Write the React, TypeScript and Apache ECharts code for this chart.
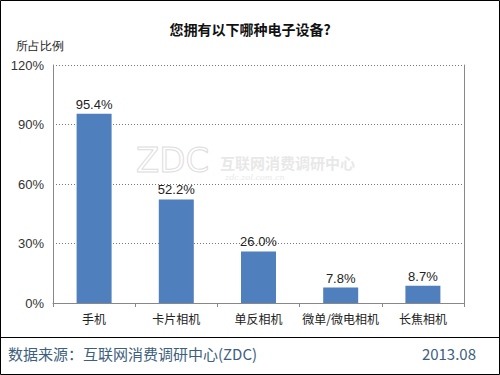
import React, { useEffect, useRef } from "react";
import * as echarts from "echarts";

const categories = ["手机", "卡片相机", "单反相机", "微单/微电相机", "长焦相机"];
const values = [95.4, 52.2, 26.0, 7.8, 8.7];
const yMax = 120;
const yInterval = 30;
const titleText = "您拥有以下哪种电子设备?";
const yName = "所占比例";
const sourceText = "数据来源：互联网消费调研中心(ZDC)";
const dateText = "2013.08";

const FONT = "'Noto Sans CJK SC', 'Noto Sans', sans-serif";
const NUMFONT = "'Liberation Sans', 'DejaVu Sans', sans-serif";

export default function App() {
  const ref = useRef<HTMLDivElement>(null);
  useEffect(() => {
    if (!ref.current) return;
    const chart = echarts.init(ref.current, null, { renderer: "svg" });
    chart.setOption({
      animation: false,
      backgroundColor: "#ffffff",
      title: {
        text: titleText,
        left: "center",
        top: 17,
        textStyle: { fontSize: 14, fontWeight: "bold", color: "#111", fontFamily: FONT },
      },
      grid: { left: 53, right: 36, top: 65, bottom: 72, containLabel: false },
      xAxis: {
        type: "category",
        data: categories,
        axisLine: { lineStyle: { color: "#888", width: 1 } },
        axisTick: { show: true, length: 4, lineStyle: { color: "#888" } },
        axisLabel: { interval: 0, fontSize: 12, color: "#222", margin: 9, fontFamily: FONT },
      },
      yAxis: [
        {
          type: "value",
          min: 0,
          max: yMax,
          interval: yInterval,
          axisLine: { show: true, lineStyle: { color: "#888", width: 1 } },
          axisTick: { show: false },
          axisLabel: { formatter: "{value}%", fontSize: 13, color: "#333", margin: 9, fontFamily: NUMFONT },
          splitLine: { show: true, lineStyle: { color: "#777", type: [1, 2], width: 1 } },
        },
        {
          type: "value",
          min: 0,
          max: yMax,
          interval: yInterval,
          position: "right",
          axisLine: { show: true, lineStyle: { color: "#888", width: 1 } },
          axisTick: { show: false },
          axisLabel: { show: false },
          splitLine: { show: false },
        },
      ],
      series: [
        {
          type: "bar",
          data: values,
          barWidth: 35,
          itemStyle: { color: "#4f7fbd" },
          label: {
            show: true,
            position: "top",
            distance: 3,
            formatter: (p: any) => p.value.toFixed(1) + "%",
            fontSize: 13,
            color: "#222",
            fontFamily: NUMFONT,
          },
        },
      ],
      graphic: [
        {
          type: "text",
          left: 16,
          top: 40,
          style: { text: yName, fontSize: 12, fill: "#222", font: "12px " + FONT },
        },
        {
          type: "text",
          x: 136,
          y: 143,
          silent: true,
          z: -1,
          style: { text: "ZDC", font: "34px 'DejaVu Sans'", fill: "rgba(0,0,0,0)", stroke: "#dddddd", lineWidth: 1 },
        },
        {
          type: "text",
          x: 220,
          y: 155,
          silent: true,
          z: -1,
          style: { text: "互联网消费调研中心", font: "bold 15px " + FONT, fill: "#e8e8e8" },
        },
        {
          type: "text",
          x: 225,
          y: 173,
          silent: true,
          z: -1,
          style: { text: "zdc.zol.com.cn", font: "italic 8px 'DejaVu Serif'", fill: "#e8e8e8" },
        },
        {
          type: "line",
          shape: { x1: 0, y1: 337.5, x2: 500, y2: 337.5 },
          style: { stroke: "#000", lineWidth: 1 },
        },
        {
          type: "text",
          left: 8,
          top: 346,
          style: { text: sourceText, font: "15px " + FONT, fill: "#3d6080" },
        },
        {
          type: "text",
          right: 24,
          top: 346,
          style: { text: dateText, font: "15px " + FONT, fill: "#3d6080" },
        },
        {
          type: "rect",
          shape: { x: 0.5, y: 0.5, width: 499, height: 374 },
          style: { fill: "none", stroke: "#000", lineWidth: 1 },
        },
      ],
    });
    return () => chart.dispose();
  }, []);
  return (
    <div
      ref={ref}
      style={{ position: "fixed", left: 0, top: 0, width: 500, height: 375 }}
    />
  );
}
